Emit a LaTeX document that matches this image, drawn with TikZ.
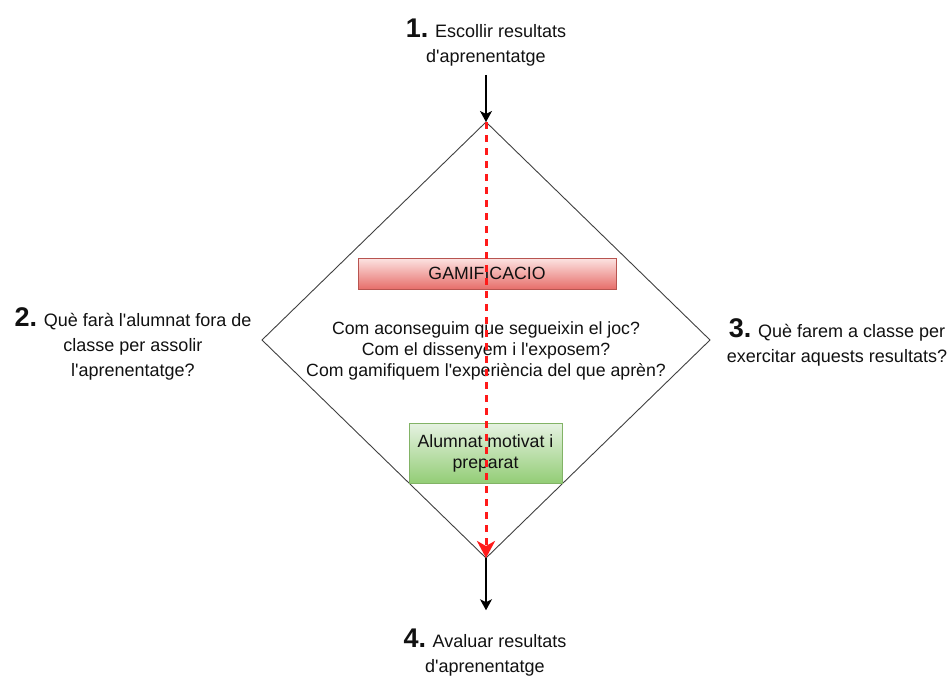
\documentclass[tikz,border=0pt]{standalone}
\usepackage{fontspec}
\setmainfont{Liberation Sans}[Ligatures=TeXOff]
\usetikzlibrary{arrows.meta}
\definecolor{redtop}{HTML}{FCE4E3}
\definecolor{redbot}{HTML}{E76E6A}
\definecolor{redline}{HTML}{B85450}
\definecolor{greentop}{HTML}{E6F2E2}
\definecolor{greenbot}{HTML}{93CD76}
\definecolor{greenline}{HTML}{82B366}
\definecolor{txt}{HTML}{111111}
\definecolor{dashred}{HTML}{FF1A1A}
\begin{document}
\begin{tikzpicture}[x=1pt,y=-1pt,
  lbl/.style={align=center, inner sep=0pt, text=txt, font=\fontsize{18}{25}\selectfont},
  mid/.style={align=center, inner sep=0pt, text=txt, font=\fontsize{17.7}{21}\selectfont},
  redbox/.style={draw=redline, line width=0.8pt, top color=redtop, bottom color=redbot,
    minimum width=258pt, minimum height=31pt, inner sep=0pt, text=txt, font=\fontsize{17.7}{21}\selectfont},
  greenbox/.style={draw=greenline, line width=0.8pt, top color=greentop, bottom color=greenbot,
    minimum width=153pt, minimum height=60pt, inner sep=0pt, align=center, text=txt, font=\fontsize{17.7}{21}\selectfont},
  dline/.style={draw=black!75, line width=0.9pt},
  arr/.style={draw=black, line width=1.1pt, -{Stealth[length=11pt,width=12pt,inset=3pt]}},
  redarr/.style={draw=dashred, line width=3pt, dash pattern=on 7pt off 6pt,
    -{Stealth[length=17pt,width=18pt,inset=5pt]}},
]
\useasboundingbox (0,0) rectangle (947,675);

% diamond vertices
\coordinate (T) at (486,122);
\coordinate (B) at (486,558);
\coordinate (L) at (262,340);
\coordinate (R) at (710,340);
\draw[dline] (T) -- (R) -- (B) -- (L) -- cycle;

% labels (anchor base = baseline of the last line)
\node[lbl, anchor=base] (l1) at (486,62) {{\fontsize{27}{25}\selectfont\bfseries 1.} Escollir resultats\\d'aprenentatge};
\node[lbl, anchor=base] (l2) at (133,376) {{\fontsize{27}{25}\selectfont\bfseries 2.} Què farà l'alumnat fora de\\classe per assolir\\l'aprenentatge?};
\node[lbl, anchor=base] (l3) at (837,362) {{\fontsize{27}{25}\selectfont\bfseries 3.} Què farem a classe per\\exercitar aquests resultats?};
\node[lbl, anchor=base] (l4) at (485,672) {{\fontsize{27}{25}\selectfont\bfseries 4.} Avaluar resultats\\d'aprenentatge};

% boxes and text
\node[redbox] (gam) at (487,273.5) {GAMIFICACIO};
\node[mid, anchor=base] (q) at (486,376) {Com aconseguim que segueixin el joc?\\Com el dissenyem i l'exposem?\\Com gamifiquem l'experiència del que aprèn?};
\node[greenbox] (alu) at (485.5,453) {Alumnat motivat i\\preparat};

% connectors
\draw[arr, shorten <=9pt] (l1.south -| T) -- (T);
\draw[arr, shorten >=18pt] (B) -- (l4.north -| B);
\draw[redarr] (T) -- (B);
\end{tikzpicture}
\end{document}
